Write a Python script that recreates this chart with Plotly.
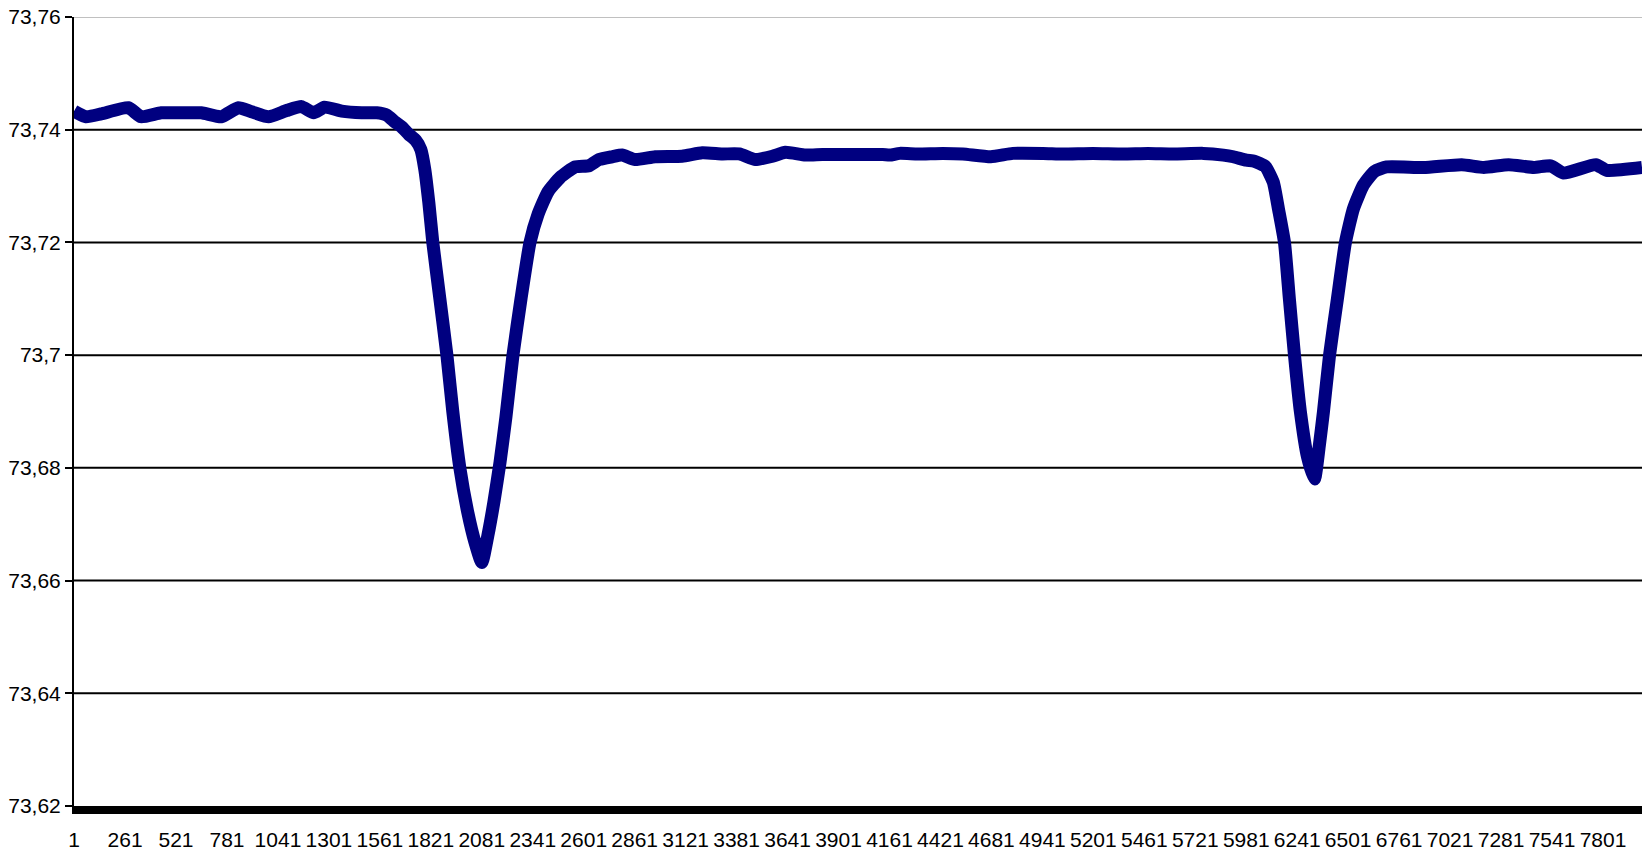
import plotly.graph_objects as go

# Sample index and measured value along the series
sample_index = [
    1, 62, 139, 277, 343, 446, 548, 650, 752, 839, 906, 993, 1085, 1161, 1223,
    1279, 1366, 1468, 1545, 1596, 1637, 1672, 1708, 1744, 1770, 1790, 1811,
    1831, 1867, 1903, 1933, 1969, 2010, 2046, 2081, 2112, 2143, 2174, 2204,
    2240, 2281, 2327, 2368, 2419, 2480, 2557, 2628, 2679, 2746, 2797, 2863,
    2966, 3103, 3206, 3308, 3395, 3477, 3564, 3630, 3732, 3819, 3973, 4126,
    4162, 4213, 4305, 4433, 4535, 4678, 4790, 4944, 5046, 5199, 5353, 5480,
    5608, 5762, 5864, 5915, 5981, 6022, 6078, 6119, 6145, 6176, 6201, 6227,
    6257, 6293, 6329, 6354, 6375, 6406, 6446, 6487, 6528, 6579, 6635, 6697,
    6886, 7080, 7193, 7320, 7448, 7534, 7600, 7764, 7820, 8000,
]
measured = [
    73.7433, 73.7423, 73.7428, 73.7439, 73.7423, 73.7430, 73.7430, 73.7430,
    73.7423, 73.7439, 73.7432, 73.7423, 73.7434, 73.7441, 73.7430, 73.7440,
    73.7433, 73.7430, 73.7430, 73.7426, 73.7414, 73.7405, 73.7392, 73.7381,
    73.7365, 73.7330, 73.7270, 73.7200, 73.7100, 73.7000, 73.6900, 73.6800,
    73.6720, 73.6668, 73.6632, 73.6680, 73.6740, 73.6810, 73.6890, 73.7000,
    73.7100, 73.7200, 73.7250, 73.7290, 73.7315, 73.7334, 73.7336, 73.7347,
    73.7352, 73.7355, 73.7347, 73.7352, 73.7353, 73.7359, 73.7357, 73.7357,
    73.7347, 73.7353, 73.7360, 73.7355, 73.7356, 73.7356, 73.7356, 73.7355,
    73.7358, 73.7357, 73.7358, 73.7357, 73.7352, 73.7358, 73.7358, 73.7357,
    73.7358, 73.7357, 73.7358, 73.7357, 73.7358, 73.7355, 73.7352, 73.7346,
    73.7344, 73.7335, 73.7307, 73.7260, 73.7200, 73.7100, 73.7000, 73.6900,
    73.6820, 73.6780, 73.6840, 73.6900, 73.7000, 73.7100, 73.7200, 73.7260,
    73.7302, 73.7326, 73.7334, 73.7333, 73.7338, 73.7333, 73.7338, 73.7333,
    73.7336, 73.7323, 73.7338, 73.7328, 73.7333,
]

# Axis ticks
x_ticks = list(range(1, 7802, 260))
y_ticks = [73.62, 73.64, 73.66, 73.68, 73.70, 73.72, 73.74, 73.76]
y_labels = ["73,62", "73,64", "73,66", "73,68", "73,7", "73,72", "73,74", "73,76"]

FONT = "Arial, 'Liberation Sans', sans-serif"

fig = go.Figure()
fig.add_trace(go.Scatter(
    x=sample_index,
    y=measured,
    mode="lines",
    line=dict(color="#000080", width=13, shape="spline", smoothing=0.5),
    hoverinfo="skip",
))

# Horizontal grid lines (the top one is lighter)
for v in y_ticks[1:]:
    fig.add_shape(
        type="line", xref="paper", x0=0, x1=1, yref="y", y0=v, y1=v,
        line=dict(color="#c0c0c0" if v == y_ticks[-1] else "#000000", width=2),
        layer="below",
    )

fig.update_layout(
    width=1642,
    height=850,
    margin=dict(l=74, r=0, t=17, b=44),
    paper_bgcolor="white",
    plot_bgcolor="white",
    showlegend=False,
    font=dict(family=FONT, size=21, color="#000000"),
    xaxis=dict(
        range=[0.5, 8000],
        tickmode="array",
        tickvals=x_ticks,
        ticktext=[str(t) for t in x_ticks],
        ticks="",
        ticklabelstandoff=8,
        showgrid=False,
        zeroline=False,
        showline=True,
        linecolor="#000000",
        linewidth=8,
        tickfont=dict(family=FONT, size=21),
    ),
    yaxis=dict(
        range=[73.62, 73.76],
        tickmode="array",
        tickvals=y_ticks,
        ticktext=y_labels,
        ticks="outside",
        ticklen=7,
        tickwidth=2,
        tickcolor="#000000",
        showgrid=False,
        zeroline=False,
        showline=True,
        linecolor="#000000",
        linewidth=2,
        tickfont=dict(family=FONT, size=21),
    ),
)

fig.write_html("out.html", config={"displayModeBar": False})
